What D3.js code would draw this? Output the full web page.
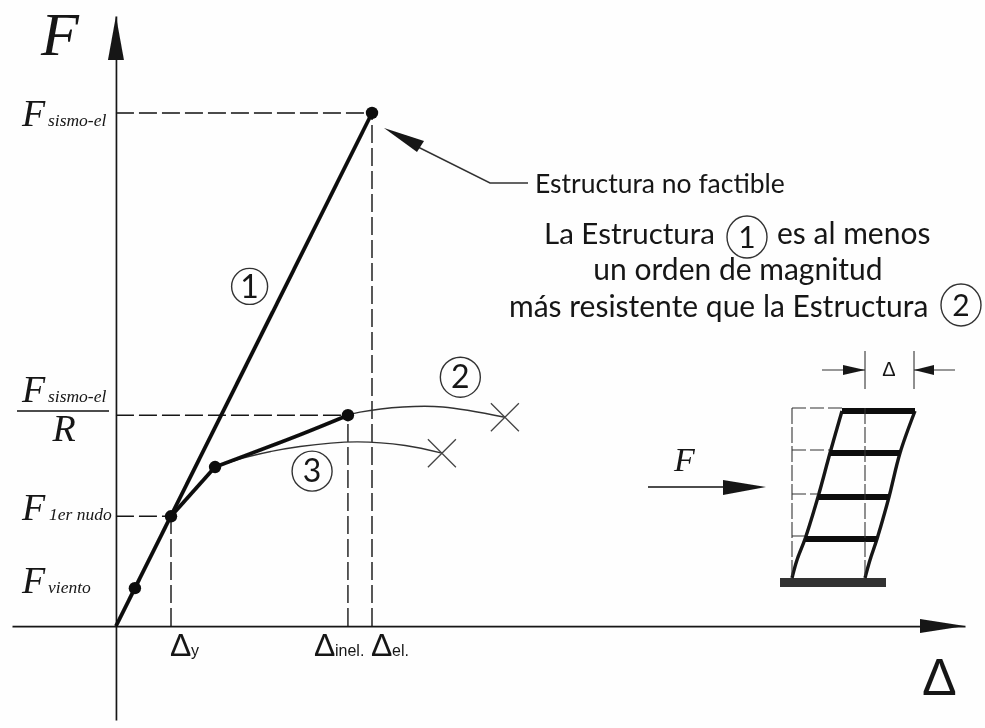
<!DOCTYPE html>
<html><head><meta charset="utf-8">
<script src="https://cdn.jsdelivr.net/npm/d3@7/dist/d3.min.js"></script>
<style>html,body{margin:0;padding:0;background:#fff}svg{display:block}</style>
</head><body><div id="chart"></div>
<script>
// Displacement (x) and force (y), as % of the elastic seismic demand
const origin = [0, 0];
const pointViento = [7.4, 7.4];
const pointPrimerNudo = [21.5, 21.4];
const pointKink = [38.7, 31];
const pointInelastic = [90.6, 41.1];
const pointElastic = [100, 100];
const curve1 = [origin, pointElastic];
const curveYield = [pointPrimerNudo, pointKink];
const curveHardening = [pointKink, [71.9, 37.3], pointInelastic];
const curve2 = [pointInelastic, [95.3, 41.7], [112.1, 42.7], [127.7, 42.7], [151.9, 40.7]];
const curve3 = [pointKink, [52.3, 33.1], [71.9, 35], [94.1, 35.9], [113, 35.2], [127.3, 33.7]];
const failurePoints = [[151.9, 40.7], [127.3, 33.7]];
const keyPoints = [pointViento, pointPrimerNudo, pointKink, pointInelastic, pointElastic];
const guides = [pointPrimerNudo, pointInelastic, pointElastic];
const curveTags = [["1", 52.2, 66.2, 18], ["2", 134.5, 48.5, 20], ["3", 76.6, 30.2, 20]];
// Inset frame: storey drift in the same picture, in frame units
const insetLeft = [[792,578],[797,560],[805,539],[818,497],[830,453],[842,411]];
const insetRight = [[865,578],[870,560],[877,539],[889,497],[900,453],[915,411]];
const insetFloorIndex = [2, 3, 4, 5];

const W = 985, H = 728;
const x = d3.scaleLinear().domain([-40.6, 331.6]).range([12, 965]);
const y = d3.scaleLinear().domain([-18.3, 118.9]).range([720, 16]);
const svg = d3.select("#chart").append("svg").attr("width", W).attr("height", H).style("background", "#fefefe");
const defs = svg.append("defs");
defs.append("filter").attr("id", "soft").attr("x", 0).attr("y", 0)
  .attr("filterUnits", "userSpaceOnUse").attr("width", W).attr("height", H)
  .append("feGaussianBlur").attr("stdDeviation", 0.6);
const g = svg.append("g").attr("filter", "url(#soft)");
const ink = "#161616";

const axisX = d3.axisBottom(x).tickValues([]).tickSizeOuter(0);
const axisY = d3.axisLeft(y).tickValues([]).tickSizeOuter(0);
g.append("g").attr("transform", `translate(0,${y(0)})`).call(axisX).select("path").attr("stroke", ink).attr("stroke-width", 1.7);
g.append("g").attr("transform", `translate(${x(0)},0)`).call(axisY).select("path").attr("stroke", ink).attr("stroke-width", 1.7);
g.append("path").attr("d", `M${x(331.6)},${y(0)}L${x(331.6)-45},${y(0)-7}L${x(331.6)-45},${y(0)+7}Z`).attr("fill", ink);
g.append("path").attr("d", `M${x(0)},${y(118.9)}L${x(0)-8},${y(118.9)+44}L${x(0)+8},${y(118.9)+44}Z`).attr("fill", ink);

const dash = "18 5";
g.selectAll(".gh").data(guides).join("line").attr("x1", x(0)).attr("x2", d => x(d[0])).attr("y1", d => y(d[1])).attr("y2", d => y(d[1]))
  .attr("stroke", ink).attr("stroke-width", 1.4).attr("stroke-dasharray", dash);
g.selectAll(".gv").data(guides).join("line").attr("x1", d => x(d[0])).attr("x2", d => x(d[0])).attr("y1", y(0)).attr("y2", d => y(d[1]))
  .attr("stroke", ink).attr("stroke-width", 1.4).attr("stroke-dasharray", dash);

const straight = d3.line().x(d => x(d[0])).y(d => y(d[1]));
const smooth = d3.line().x(d => x(d[0])).y(d => y(d[1])).curve(d3.curveCatmullRom.alpha(0.5));
g.append("path").attr("d", smooth(curve2)).attr("fill", "none").attr("stroke", "#333").attr("stroke-width", 1.4);
g.append("path").attr("d", smooth(curve3)).attr("fill", "none").attr("stroke", "#333").attr("stroke-width", 1.4);
g.append("path").attr("d", straight(curve1)).attr("fill", "none").attr("stroke", "#0c0c0c").attr("stroke-width", 3.8);
g.append("path").attr("d", straight(curveYield)).attr("fill", "none").attr("stroke", "#0c0c0c").attr("stroke-width", 3.8);
g.append("path").attr("d", smooth(curveHardening)).attr("fill", "none").attr("stroke", "#0c0c0c").attr("stroke-width", 3.8);
g.selectAll(".pt").data(keyPoints).join("circle").attr("cx", d => x(d[0])).attr("cy", d => y(d[1])).attr("r", 6.2).attr("fill", "#0c0c0c");
failurePoints.forEach(d => {
  const cx = x(d[0]), cy = y(d[1]), r = 14;
  g.append("path").attr("d", `M${cx-r},${cy+r}L${cx+r},${cy-r}M${cx-r},${cy-r}L${cx+r},${cy+r}`).attr("stroke", "#444").attr("stroke-width", 1.3).attr("fill", "none");
});

function tag(cx, cy, t, rx, ry, fs) {
  g.append("ellipse").attr("cx", cx).attr("cy", cy).attr("rx", rx).attr("ry", ry).attr("fill", "none").attr("stroke", "#333").attr("stroke-width", 1.4);
  g.append("text").attr("x", cx).attr("y", cy + fs * 0.35).attr("text-anchor", "middle").attr("font-family", "Lato").attr("font-size", fs).attr("fill", ink).text(t);
}
curveTags.forEach(d => tag(x(d[1]), y(d[2]), d[0], d[3], d[3], 32));

const serif = "Liberation Serif", sans = "Liberation Sans", cal = "Lato";
function txt(px, py, s, fam, fs, opt = {}) {
  return g.append("text").attr("x", px).attr("y", py).attr("font-family", fam).attr("font-size", fs)
    .attr("font-style", opt.italic ? "italic" : "normal").attr("text-anchor", opt.anchor || "start").attr("fill", opt.fill || ink).text(s);
}
txt(41, 55, "F", serif, 62, {italic: true});
txt(22, 126, "F", serif, 38, {italic: true}); txt(48, 126, "sismo-el", serif, 17.5, {italic: true});
txt(22, 402, "F", serif, 38, {italic: true}); txt(48, 402, "sismo-el", serif, 17.5, {italic: true});
g.append("line").attr("x1", 17).attr("x2", 109).attr("y1", 411).attr("y2", 411).attr("stroke", ink).attr("stroke-width", 1.5);
txt(64, 441, "R", serif, 38, {italic: true, anchor: "middle"});
txt(22, 520, "F", serif, 38, {italic: true}); txt(49, 520, "1er nudo", serif, 17.5, {italic: true});
txt(22, 593, "F", serif, 38, {italic: true}); txt(48, 593, "viento", serif, 17.5, {italic: true});

txt(170, 656, "Δ", sans, 32); txt(191, 656, "y", sans, 16);
txt(314, 656, "Δ", sans, 32); txt(335, 656, "inel.", sans, 16);
txt(371, 656, "Δ", sans, 32); txt(392, 656, "el.", sans, 16);
txt(922, 695, "Δ", sans, 52);

txt(535, 193, "Estructura no factible", cal, 26.5);
txt(544, 244, "La Estructura", cal, 29.5);
tag(747, 237, "1", 20, 21, 30);
txt(777, 244, "es al menos", cal, 30);
txt(738, 280, "un orden de magnitud", cal, 30, {anchor: "middle"});
txt(509, 317, "más resistente que la Estructura", cal, 30);
tag(961, 305, "2", 20, 21, 30);

// leader arrow to the infeasible point
g.append("path").attr("d", "M410,143L490,183L528,183").attr("fill", "none").attr("stroke", "#333").attr("stroke-width", 1.4);
g.append("path").attr("d", "M384,128L424,141L417,152Z").attr("fill", ink);

// Inset frame
g.append("rect").attr("x", 780).attr("y", 578).attr("width", 106).attr("height", 9).attr("fill", "#333");
const frameLine = d3.line().x(d => d[0]).y(d => d[1]).curve(d3.curveCatmullRom.alpha(0.5));
g.append("path").attr("d", frameLine(insetLeft)).attr("fill", "none").attr("stroke", ink).attr("stroke-width", 3.4);
g.append("path").attr("d", frameLine(insetRight)).attr("fill", "none").attr("stroke", ink).attr("stroke-width", 3.4);
insetFloorIndex.forEach(i => {
  const l = insetLeft[i], r = insetRight[i];
  g.append("line").attr("x1", l[0]).attr("x2", r[0]).attr("y1", l[1]).attr("y2", l[1]).attr("stroke", "#0c0c0c").attr("stroke-width", 6);
  g.append("line").attr("x1", 792).attr("x2", l[0]).attr("y1", l[1] - 3).attr("y2", l[1] - 3).attr("stroke", "#333").attr("stroke-width", 1).attr("stroke-dasharray", "14 4");
});
[792, 865].forEach(px => g.append("line").attr("x1", px).attr("x2", px).attr("y1", 408).attr("y2", 578).attr("stroke", "#333").attr("stroke-width", 1.1).attr("stroke-dasharray", "16 3"));
[865, 914].forEach(px => g.append("line").attr("x1", px).attr("x2", px).attr("y1", 351).attr("y2", 389).attr("stroke", "#333").attr("stroke-width", 1.1));
g.append("line").attr("x1", 822).attr("x2", 865).attr("y1", 370).attr("y2", 370).attr("stroke", "#333").attr("stroke-width", 1.1);
g.append("line").attr("x1", 914).attr("x2", 955).attr("y1", 370).attr("y2", 370).attr("stroke", "#333").attr("stroke-width", 1.1);
g.append("path").attr("d", "M865,370L843,365L843,375Z").attr("fill", ink);
g.append("path").attr("d", "M914,370L934,365L934,375Z").attr("fill", ink);
txt(889, 376, "Δ", sans, 20, {anchor: "middle"});
txt(674, 471, "F", serif, 34, {italic: true});
g.append("line").attr("x1", 648).attr("x2", 725).attr("y1", 487).attr("y2", 487).attr("stroke", ink).attr("stroke-width", 1.4);
g.append("path").attr("d", "M766,487L723,480L723,495Z").attr("fill", ink);
</script></body></html>
